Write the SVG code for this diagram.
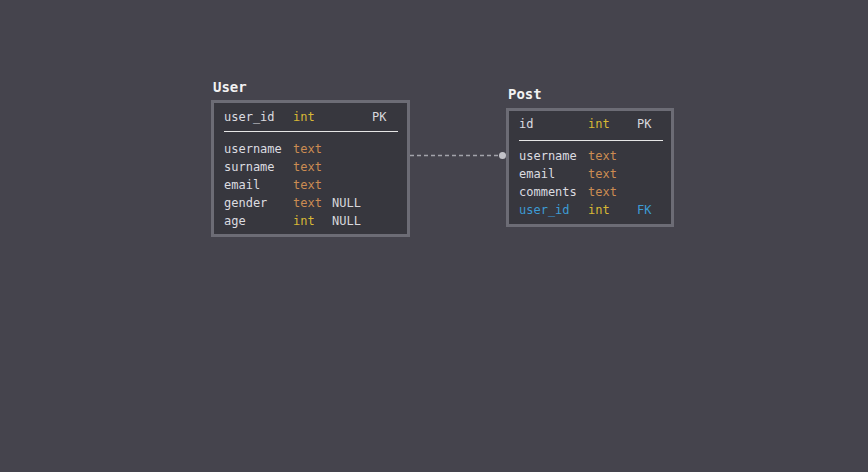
<svg xmlns="http://www.w3.org/2000/svg" width="868" height="472" viewBox="0 0 868 472">
<style>
.bg{fill:#45444d}
.box{fill:#37373e;stroke:#6c6c75;stroke-width:3}
.t{font-family:"DejaVu Sans Mono","Liberation Mono",monospace;font-size:12px}
.title{font-family:"DejaVu Sans Mono","Liberation Mono",monospace;font-size:14px;font-weight:bold;fill:#f2f2f2}
.n{fill:#dcdce0}
.int{fill:#d8b735}
.txt{fill:#cc8c52}
.k{fill:#d8d8dc}
.fk{fill:#3d9bd4}
.sep{stroke:#e6e6e6;stroke-width:1.2}
.edge{stroke:#a3a3ab;stroke-width:1.3;stroke-dasharray:4 3;fill:none}
</style>
<rect class="bg" x="0" y="0" width="868" height="472"/>
<g id="connectors">
<path class="edge" d="M410 155.5 H500"/>
<circle cx="502.5" cy="155.5" r="3.5" fill="#c2c2c8"/>
</g>
<g id="User">
<text class="title" x="213" y="92">User</text>
<rect class="box" x="212.5" y="101.5" width="196" height="134"/>
<text class="t n" x="224" y="121">user_id</text><text class="t int" x="293" y="121">int</text><text class="t k" x="372" y="121">PK</text>
<line class="sep" x1="224" y1="131.5" x2="398" y2="131.5"/>
<text class="t n" x="224" y="153">username</text><text class="t txt" x="293" y="153">text</text>
<text class="t n" x="224" y="171">surname</text><text class="t txt" x="293" y="171">text</text>
<text class="t n" x="224" y="189">email</text><text class="t txt" x="293" y="189">text</text>
<text class="t n" x="224" y="207">gender</text><text class="t txt" x="293" y="207">text</text><text class="t k" x="332" y="207">NULL</text>
<text class="t n" x="224" y="225">age</text><text class="t int" x="293" y="225">int</text><text class="t k" x="332" y="225">NULL</text>
</g>
<g id="Post">
<text class="title" x="508" y="99">Post</text>
<rect class="box" x="507.5" y="109.5" width="165" height="116"/>
<text class="t n" x="519" y="128">id</text><text class="t int" x="588" y="128">int</text><text class="t k" x="637" y="128">PK</text>
<line class="sep" x1="519" y1="140.5" x2="663" y2="140.5"/>
<text class="t n" x="519" y="160">username</text><text class="t txt" x="588" y="160">text</text>
<text class="t n" x="519" y="178">email</text><text class="t txt" x="588" y="178">text</text>
<text class="t n" x="519" y="196">comments</text><text class="t txt" x="588" y="196">text</text>
<text class="t fk" x="519" y="214">user_id</text><text class="t int" x="588" y="214">int</text><text class="t fk" x="637" y="214">FK</text>
</g>
</svg>
